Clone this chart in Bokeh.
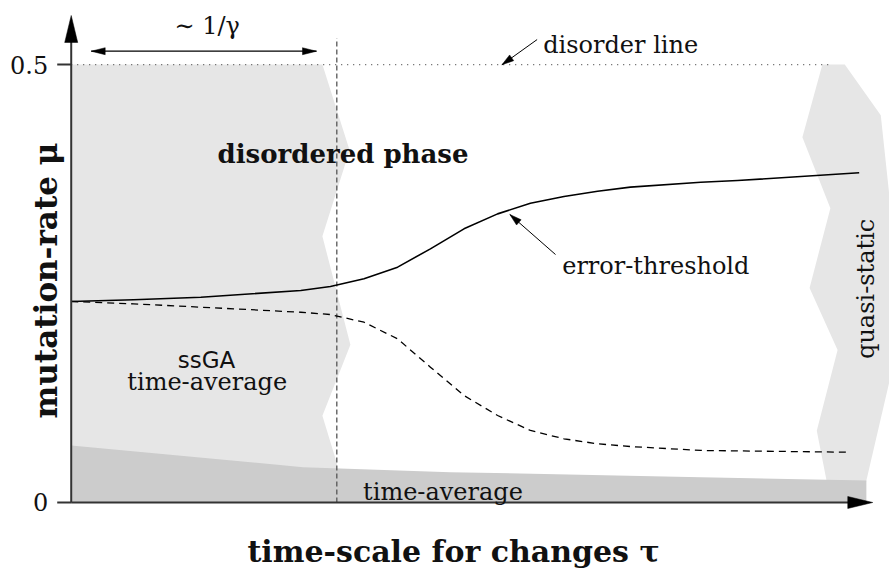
import math
from bokeh.plotting import figure
from bokeh.models import Range1d, Label
from bokeh.embed import file_html
from bokeh.resources import INLINE

# ---------------- data ----------------
mu_tick_values = [0, 0.5]
mu_tick_labels = ["0", "0.5"]

mu_disorder = 0.5
tau_disorder_end = 9.47
tau_gamma = 3.32           # ~ 1/gamma marker
tau_axis_end = 10.02
mu_axis_end = 0.556

# error-threshold (solid)
tau_threshold = [0.0, 0.78, 1.62, 2.87, 3.24, 3.66, 4.08, 4.49, 4.91, 5.33, 5.74, 6.16, 6.58, 6.99, 7.87, 8.33, 9.85]
mu_threshold = [0.2295, 0.2314, 0.2344, 0.2420, 0.2466, 0.2554, 0.2687, 0.2896, 0.3124, 0.3295, 0.3417, 0.3493, 0.3554, 0.3600, 0.3656, 0.3676, 0.3764]

# ssGA time-average (dashed)
tau_ssga = [0.0, 0.78, 2.03, 2.87, 3.24, 3.66, 4.08, 4.49, 4.91, 5.33, 5.74, 6.16, 6.58, 6.99, 7.87, 9.72]
mu_ssga = [0.2295, 0.2268, 0.2211, 0.2172, 0.2146, 0.2058, 0.1868, 0.1545, 0.1221, 0.0993, 0.0822, 0.0727, 0.0670, 0.0639, 0.0594, 0.0574]

# light region: ssGA time-average phase (left)
tau_ssga_region = [0.0, 3.14, 3.48, 3.14, 3.49, 3.14, 3.32, 3.34, 0.0]
mu_ssga_region = [0.5, 0.5, 0.402, 0.304, 0.180, 0.099, 0.045, 0.0, 0.0]

# light region: quasi-static (right)
tau_quasi = [9.39, 9.67, 10.12, 10.30, 10.23, 9.94, 9.89, 9.47, 9.44, 9.32, 9.58, 9.23, 9.49, 9.14]
mu_quasi = [0.5, 0.5, 0.442, 0.288, 0.139, 0.025, 0.0, 0.0, 0.026, 0.082, 0.174, 0.245, 0.336, 0.417]

# darker band: time-average
tau_band = [0.0, 2.90, 4.74, 7.87, 9.94, 9.94, 0.0]
mu_band = [0.0651, 0.0403, 0.0346, 0.0289, 0.0251, 0.0, 0.0]

# ---------------- figure ----------------
W, H = 889, 569
X0, X1 = -0.884, 10.229
Y0, Y1 = -0.0765, 0.5731
SX = W / (X1 - X0)
SY = H / (Y1 - Y0)

p = figure(width=W, height=H, x_range=Range1d(X0, X1), y_range=Range1d(Y0, Y1),
           output_backend="svg", toolbar_location=None, x_axis_type=None, y_axis_type=None,
           min_border=0, min_border_left=0, min_border_right=0, min_border_top=0, min_border_bottom=0)
p.grid.visible = False
p.outline_line_color = None
p.background_fill_color = "white"
p.border_fill_color = "white"

LIGHT = "#e6e6e6"
DARK = "#cccccc"
AX = "#333333"

p.patch(tau_ssga_region, mu_ssga_region, fill_color=LIGHT, line_color=None)
p.patch(tau_quasi, mu_quasi, fill_color=LIGHT, line_color=None)
p.patch(tau_band, mu_band, fill_color=DARK, line_color=None)

# disorder line (dotted)
p.line([0, tau_disorder_end], [mu_disorder, mu_disorder], line_color="#555555",
       line_width=1.3, line_dash="1 5")
# 1/gamma line (dashed vertical)
p.line([tau_gamma, tau_gamma], [0, 0.53], line_color="#555555", line_width=1.3, line_dash="5 3")

# curves
p.line(tau_threshold, mu_threshold, line_color="black", line_width=1.6, line_join="round")
p.line(tau_ssga, mu_ssga, line_color="black", line_width=1.3, line_dash="7 5", line_join="round")


def head(xt, yt, xf, yf, length, width):
    dx = (xt - xf) * SX
    dy = (yt - yf) * SY
    n = math.hypot(dx, dy)
    ux, uy = dx / n, dy / n
    bx, by = -ux * length, -uy * length
    px, py = -uy * width / 2, ux * width / 2
    xs = [xt, xt + (bx + px) / SX, xt + (bx - px) / SX]
    ys = [yt, yt + (by + py) / SY, yt + (by - py) / SY]
    return xs, ys


heads_x, heads_y = [], []

# axes
p.line([0, 0], [0, mu_axis_end - 20 / SY], line_color=AX, line_width=2)
p.line([0, tau_axis_end - 20 / SX], [0, 0], line_color=AX, line_width=2)
hx, hy = head(0, mu_axis_end, 0, 0, 27, 13); heads_x.append(hx); heads_y.append(hy)
hx, hy = head(tau_axis_end, 0, 0, 0, 25, 12); heads_x.append(hx); heads_y.append(hy)
for v in mu_tick_values:
    p.line([-14 / SX, 0], [v, v], line_color=AX, line_width=2)

# ~1/gamma double arrow
ga_y = 0.5152
ga_x0, ga_x1 = 0.25, 3.066
p.line([ga_x0, ga_x1], [ga_y, ga_y], line_color="black", line_width=1.2)
hx, hy = head(ga_x0, ga_y, ga_x1, ga_y, 14, 7); heads_x.append(hx); heads_y.append(hy)
hx, hy = head(ga_x1, ga_y, ga_x0, ga_y, 14, 7); heads_x.append(hx); heads_y.append(hy)

# disorder line pointer
d_tail = (5.824, 0.5285); d_tip = (5.384, 0.4997)
p.line([d_tail[0], d_tip[0]], [d_tail[1], d_tip[1]], line_color="black", line_width=1)
hx, hy = head(d_tip[0], d_tip[1], d_tail[0], d_tail[1], 12, 7); heads_x.append(hx); heads_y.append(hy)

# error-threshold pointer
e_tail = (6.054, 0.2831); e_tip = (5.483, 0.3288)
p.line([e_tail[0], e_tip[0]], [e_tail[1], e_tip[1]], line_color="black", line_width=1)
hx, hy = head(e_tip[0], e_tip[1], e_tail[0], e_tail[1], 12, 7); heads_x.append(hx); heads_y.append(hy)

p.patches(heads_x, heads_y, fill_color="black", line_color="black", line_width=0.5)

SERIF = "DejaVu Serif"
TXT = "#111111"


def lab(x, y, text, size="24px", align="left", style="normal", font=SERIF, angle=0.0, xo=0, baseline="alphabetic"):
    p.add_layout(Label(x=x, y=y, text=text, text_font=font, text_font_size=size,
                       text_align=align, text_baseline=baseline, text_font_style=style,
                       text_color=TXT, angle=angle, x_offset=xo))


# tick labels
for v, t in zip(mu_tick_values, mu_tick_labels):
    lab(-14 / SX, v, t, size="24px", align="right", xo=-9, baseline="middle")

# axis labels
lab(4.779, -0.0559, "time-scale for changes τ", size="30px", align="center", style="bold")
lab(-0.321, 0.2534, "mutation-rate μ", size="31px", align="center", style="bold", angle=math.pi / 2)

# annotations
lab(1.70, 0.5445, "∼ 1/γ", size="24px", align="center")
lab(5.90, 0.5228, "disorder line", size="24px")
lab(3.3975, 0.398, "disordered phase", size="26px", align="center", style="bold")
lab(6.1375, 0.2705, "error-threshold", size="24px")
lab(1.691, 0.1629, "ssGA", size="23px", align="center", font="DejaVu Sans")
lab(1.70, 0.1373, "time-average", size="24px", align="center")
lab(4.647, 0.0118, "time-average", size="24px", align="center")
lab(9.929, 0.2439, "quasi-static", size="24px", align="center", angle=math.pi / 2)

open("out.html", "w").write(file_html(p, INLINE))
